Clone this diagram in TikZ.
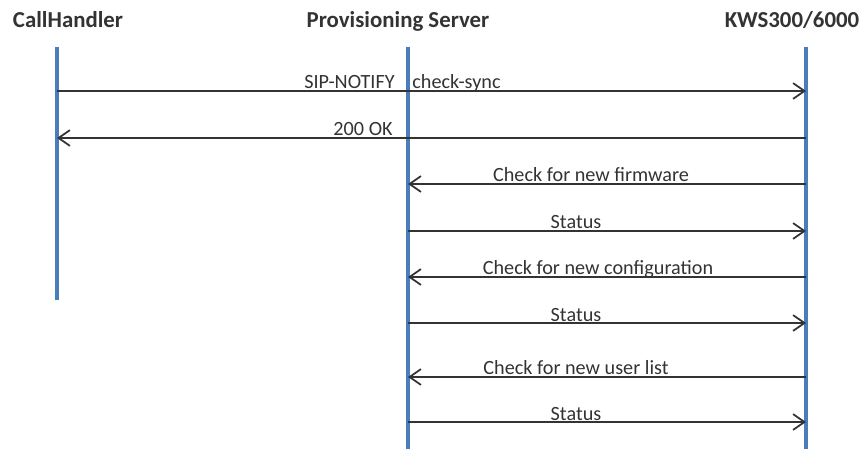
\documentclass[tikz,border=0pt]{standalone}
\usepackage{fontspec}
\setmainfont{Carlito}
\usepackage{tikz}
\usetikzlibrary{arrows.meta}
\usetikzlibrary{calc}
\usetikzlibrary{positioning}

\definecolor{lifeblue}{HTML}{4A7EBB}

\begin{document}
\begin{tikzpicture}[x=0.02cm, y=-0.02cm,
        head/.style={font=\bfseries\fontsize{13}{15}\selectfont, text=black!80, inner sep=0pt, anchor=base},
        life/.style={draw=lifeblue, line width=2.2pt},
        msg/.style={draw=black!80, line width=1pt, -{Straight Barb[length=6.5pt,width=9pt]}},
        lbl/.style={font=\fontsize{11.5}{13}\selectfont, text=black!80, inner sep=0pt, anchor=base}]
        \useasboundingbox (0,0) rectangle (865,449);
        % headers
        \node[head] (chh) at (68,28) {CallHandler};
        \node[head] (psh) at (398,28) {Provisioning Server};
        \node[head] (ksh) at (792,28) {KWS300/6000};
        
        % lifelines
        \coordinate (chtop) at (57,47);
        \coordinate (chbot) at (57,300);
        \coordinate (pstop) at (408,47);
        \coordinate (psbot) at (408,449);
        \coordinate (kstop) at (806,47);
        \coordinate (ksbot) at (806,449);
        \draw[life] (chtop) -- (chbot);
        \draw[life] (pstop) -- (psbot);
        \draw[life] (kstop) -- (ksbot);
        
        % message ends
        \coordinate (ch1) at (57,91);
        \coordinate (ks1) at (806,91);
        \coordinate (ch2) at (57,138);
        \coordinate (ks2) at (806,138);
        \coordinate (ps3) at (408,184);
        \coordinate (ks3) at (806,184);
        \coordinate (ps4) at (408,231);
        \coordinate (ks4) at (806,231);
        \coordinate (ps5) at (408,277);
        \coordinate (ks5) at (806,277);
        \coordinate (ps6) at (408,323);
        \coordinate (ks6) at (806,323);
        \coordinate (ps7) at (408,377);
        \coordinate (ks7) at (806,377);
        \coordinate (ps8) at (408,422);
        \coordinate (ks8) at (806,422);
        
        \draw[msg] (ch1) -- (ks1);
        \draw[msg] (ks2) -- (ch2);
        \draw[msg] (ks3) -- (ps3);
        \draw[msg] (ps4) -- (ks4);
        \draw[msg] (ks5) -- (ps5);
        \draw[msg] (ps6) -- (ks6);
        \draw[msg] (ks7) -- (ps7);
        \draw[msg] (ps8) -- (ks8);
        
        % labels
        \node[lbl, anchor=base east] (l1a) at (395,89) {SIP-NOTIFY};
        \node[lbl, anchor=base west] (l1b) at (412,89) {check-sync};
        \node[lbl, anchor=base east] (l2) at (393,136) {200 OK};
        \node[lbl] (l3) at (591,182) {Check for new firmware};
        \node[lbl] (l4) at (576,229) {Status};
        \node[lbl] (l5) at (598,275) {Check for new configuration};
        \node[lbl] (l6) at (576,321) {Status};
        \node[lbl] (l7) at (576,374) {Check for new user list};
        \node[lbl] (l8) at (576,420) {Status};
    \end{tikzpicture}
\end{document}
